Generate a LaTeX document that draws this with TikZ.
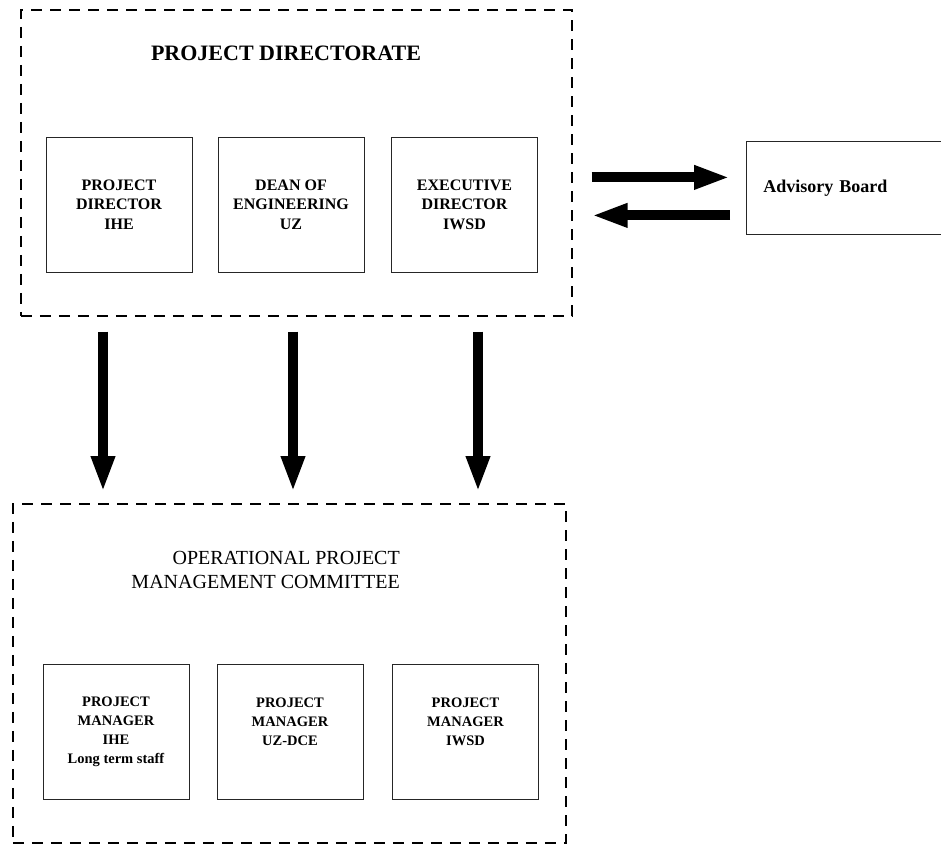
\documentclass[tikz,border=0pt]{standalone}
\usepackage{fontspec}
\setmainfont{Liberation Serif}
\usetikzlibrary{arrows.meta}

\begin{document}
\begin{tikzpicture}[
    x=1pt, y=-1pt,
    dashbox/.style={rectangle, draw=black, line width=1.6pt, dash pattern=on 11pt off 8pt, anchor=north west, inner sep=0},
    cell/.style={rectangle, draw=black!85, line width=0.8pt, minimum width=146pt, minimum height=135pt, inner sep=0, align=center},
    bigarrow/.style={line width=10pt, -{Triangle[length=36pt, width=22pt]}}
]
\useasboundingbox (0,0) rectangle (941,844);
\clip (0,0) rectangle (941,844);

% ============================================
% PROJECT DIRECTORATE
% ============================================

\node[dashbox, minimum width=551pt, minimum height=306pt] (pdbox) at (20,9) {};

% Title
\node[font=\bfseries\fontsize{22}{26}\selectfont] (pdtitle) at (286,53) {PROJECT DIRECTORATE};

% Members
\node[cell, font=\bfseries\fontsize{16}{19.5}\selectfont] (pdihe) at (119,204.5) {PROJECT\\DIRECTOR\\IHE};
\node[cell, font=\bfseries\fontsize{16}{19.5}\selectfont] (pduz) at (291,204.5) {DEAN OF\\ENGINEERING\\UZ};
\node[cell, font=\bfseries\fontsize{16}{19.5}\selectfont] (pdiwsd) at (464.5,204.5) {EXECUTIVE\\DIRECTOR\\IWSD};

% ============================================
% ADVISORY BOARD
% ============================================
\node[cell, anchor=north west, minimum width=200pt, minimum height=93pt, inner xsep=17pt, text width=166pt, align=left, font=\bfseries\fontsize{18}{22}\selectfont] (adv) at (746,141) {Advisory Board};

\draw[bigarrow, shorten <=19pt, shorten >=16pt] ([yshift=10.5pt]pdbox.east |- adv.west) -- ([yshift=10.5pt]adv.west);
\draw[bigarrow, shorten <=16pt, shorten >=19pt] ([yshift=-27.5pt]adv.west) -- ([yshift=-27.5pt]pdbox.east |- adv.west);

% ============================================
% OPERATIONAL PROJECT MANAGEMENT COMMITTEE
% ============================================

\node[dashbox, minimum width=553pt, minimum height=339pt] (opbox) at (12,503) {};

% Title
\node[font=\fontsize{20}{24}\selectfont, align=right, anchor=east, inner sep=0] (optitle) at (400,570) {OPERATIONAL PROJECT\\MANAGEMENT COMMITTEE};

% Members
\node[cell, font=\bfseries\fontsize{14.5}{19}\selectfont] (pmihe) at (116,731.5) {PROJECT\\MANAGER\\IHE\\Long term staff};
\node[cell, font=\bfseries\fontsize{14.5}{19}\selectfont] (pmuz) at (290,731.5) {PROJECT\\MANAGER\\UZ-DCE\\\mbox{}};
\node[cell, font=\bfseries\fontsize{14.5}{19}\selectfont] (pmiwsd) at (465.5,731.5) {PROJECT\\MANAGER\\IWSD\\\mbox{}};

% ============================================
% DOWNWARD ARROWS
% ============================================
\coordinate (a1) at (103,0);
\coordinate (a2) at (293,0);
\coordinate (a3) at (478,0);

\draw[bigarrow, shorten <=15pt, shorten >=11pt] (pdbox.south -| a1) -- (opbox.north -| a1);
\draw[bigarrow, shorten <=15pt, shorten >=11pt] (pdbox.south -| a2) -- (opbox.north -| a2);
\draw[bigarrow, shorten <=15pt, shorten >=11pt] (pdbox.south -| a3) -- (opbox.north -| a3);

\end{tikzpicture}
\end{document}
